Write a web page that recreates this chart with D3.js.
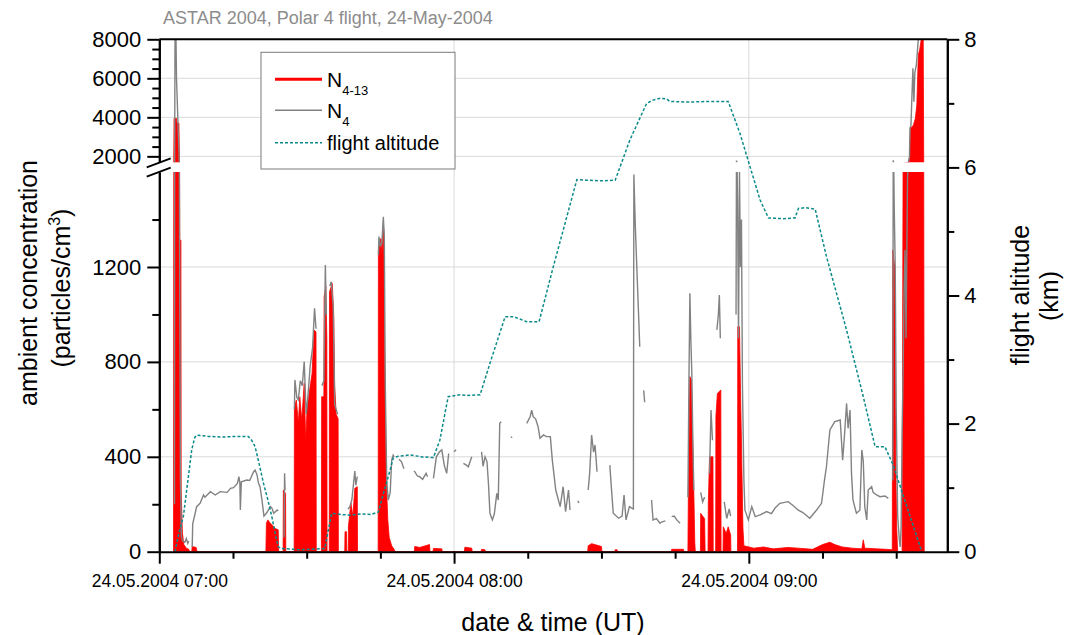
<!DOCTYPE html>
<html>
<head>
<meta charset="utf-8">
<script src="https://cdn.jsdelivr.net/npm/d3@7"></script>
<style>
  body { margin: 0; background: #fff; }
  text { font-family: Arial, "Liberation Sans", sans-serif; }
</style>
</head>
<body>
<script>
// all times are minutes after 07:00 UT on 24.05.2004
var n413 = [
  [2.9, 0], [3.0, 3950], [3.5, 3950], [3.6, 3700], [4.0, 3700], [4.05, 2600], [4.15, 1313], [4.4, 1313],
  [4.45, 260], [4.7, 80], [5.0, 30], [5.5, 15], [6.0, 10], [6.2, 0],
  [6.6, 0], [6.7, 22], [7.5, 18], [7.7, 0],
  [21.7, 0], [21.8, 120], [22.1, 134], [22.5, 122], [23.2, 108], [23.6, 98], [24.2, 92], [24.3, 0],
  [25.2, 0], [25.25, 260], [25.7, 245], [25.75, 0],
  [27.45, 0], [27.5, 611], [27.9, 639], [28.3, 541], [28.6, 653], [29.0, 555], [29.5, 710], [29.8, 471],
  [30.1, 611], [30.4, 653], [30.8, 710], [31.1, 752], [31.5, 934], [31.9, 927], [31.95, 0],
  [33.0, 0], [33.05, 653], [33.5, 653], [33.55, 1075], [33.9, 1117], [34.1, 900], [34.15, 0],
  [34.6, 0], [34.65, 1096], [35.2, 1131], [35.5, 1000], [35.7, 700], [36.0, 580], [36.4, 560], [36.45, 0],
  [37.75, 0], [37.8, 84], [38.1, 84], [38.15, 0],
  [38.45, 0], [38.5, 107], [39.0, 205], [39.4, 150], [39.8, 267], [40.3, 274], [40.35, 0],
  [44.55, 0], [44.6, 1272], [44.9, 1300], [45.1, 1320], [45.3, 1250], [45.5, 1363], [45.7, 1360], [45.85, 864],
  [46.1, 471], [46.3, 250], [46.5, 137], [46.8, 60], [47.3, 25], [47.8, 10], [48.0, 0],
  [51.9, 0], [52.0, 22], [53.0, 18], [54.0, 24], [55.0, 30], [55.1, 0],
  [55.7, 0], [55.8, 14], [57.5, 12], [57.6, 0],
  [62.1, 0], [62.2, 19], [63.6, 15], [63.7, 0],
  [65.5, 0], [65.6, 10], [66.3, 8], [66.4, 0],
  [87.2, 0], [87.3, 25], [88.0, 34], [89.0, 28], [90.0, 22], [90.1, 0],
  [92.7, 0], [92.8, 8], [93.2, 8], [93.3, 0],
  [104.2, 0], [104.3, 10], [106.7, 10], [106.8, 0],
  [107.6, 0], [107.7, 260], [108.0, 738], [108.3, 724], [108.5, 540], [108.7, 358], [109.0, 40], [109.1, 0],
  [110.15, 0], [110.2, 162], [110.6, 150], [111.0, 140], [111.1, 0],
  [111.7, 0], [111.75, 200], [112.0, 400], [112.7, 400], [112.75, 0],
  [113.25, 0], [113.3, 570], [113.6, 667], [114.3, 682], [114.35, 0],
  [114.75, 0], [114.8, 105], [115.4, 77], [115.8, 105], [116.3, 70], [116.35, 0],
  [117.7, 0], [117.75, 948], [118.1, 948], [118.3, 684], [118.5, 461], [118.8, 100], [119.0, 25],
  [121, 15], [123, 20], [125, 12], [128, 18], [130, 15], [133, 10], [135, 30], [136.5, 40], [137.5, 30],
  [139, 20], [141, 15], [143, 12], [143.3, 50], [143.6, 15], [146, 12], [148, 10], [149.2, 8],
  [149.3, 1272], [149.7, 1200], [149.9, 400], [150.1, 100], [150.3, 0],
  [151.2, 0], [151.4, 1650], [152.6, 1690], [152.7, 1810], [152.9, 3436], [153.5, 3600], [153.9, 3950],
  [154.2, 4630], [154.5, 7195], [154.8, 7500], [155.1, 8000], [155.5, 8000], [155.6, 1700], [155.7, 0]
];

// null marks a gap in the N4 record
var n4 = [
  [3.1, 200], [3.2, 8000], [3.4, 8000], [3.5, 6000], [3.7, 4500], [3.9, 3000], [4.1, 1500], [4.3, 300],
  [4.5, 60], [4.8, 45], [5.2, 40], [5.5, 55], [5.8, 35], [6.0, 45], [6.1, null],
  [6.7, 20], [6.8, 117], [7.3, 162], [7.6, 190], [8.3, 204], [9.0, 239], [9.3, 230], [10.4, 253], [11.4, 239],
  [12.4, 253], [13.8, 250], [14.5, 267], [15.1, 270], [15.9, 288], [16.2, 316], [16.4, 290], [16.5, 176],
  [16.7, 295], [17.8, 302], [18.4, 300], [19.2, 337], [19.5, 344], [19.9, 323], [20.2, 288], [20.5, 274],
  [20.9, 218], [21.3, 150], [21.9, 165], [22.6, 190], [22.9, 185], [23.3, 162], [24.0, 176], [24.2, 172], [24.3, null],
  [25.4, 60], [25.5, 331], [25.6, 260], [25.65, null],
  [27.5, 600], [27.6, 724], [28.0, 650], [28.3, 640], [28.7, 720], [29.1, 700], [29.5, 801], [29.9, 580],
  [30.2, 640], [30.7, 780], [31.2, 860], [31.6, 1026], [31.9, 940], [31.95, null],
  [33.1, 700], [33.5, 720], [33.8, 1208], [34.0, 1000], [34.1, null],
  [34.7, 1120], [35.0, 1138], [35.4, 1033], [35.7, 620], [36.0, 600], [36.3, 580], [36.4, null],
  [38.4, 180], [38.8, 190], [39.2, 220], [39.6, 300], [39.8, 340], [40.0, 280], [40.3, 317], [40.4, null],
  [44.6, 1250], [44.7, 1328], [45.0, 1290], [45.3, 1300], [45.6, 1412], [45.8, 1330], [46.0, 700], [46.3, 300],
  [46.6, 218], [47.0, 250], [47.3, 386], [47.6, 407], [47.8, 400], [47.9, null],
  [48.8, 390], [49.3, 379], [49.8, 350], [49.9, null],
  [51.8, 340], [52.0, 337], [52.5, 320], [53.0, 316], [53.6, 305], [54.3, 330], [54.6, 316], [54.7, null],
  [55.8, 309], [56.4, 400], [57.0, 420], [57.5, 429], [58.0, 365], [58.5, 330], [58.9, 414], [59.0, null],
  [60.0, 421], [60.4, 430], [60.5, null],
  [61.9, 372], [62.5, 365], [62.9, 358], [63.6, 400], [63.7, null],
  [65.6, 421], [65.9, 360], [66.3, 400], [66.7, 380], [67.0, 288], [67.3, 162], [67.8, 134], [68.2, 160],
  [68.7, 246], [69.0, 218], [69.3, 541], [69.6, 548], [69.7, null],
  [71.6, 485], [71.8, 480], [71.9, null],
  [74.8, 541], [75.5, 570], [75.8, 597], [76.1, 569], [76.6, 560], [77.1, 527], [77.5, 478], [78.2, 492],
  [78.8, 485], [79.6, 485], [80.0, 386], [80.7, 260], [81.6, 190], [82.2, 274], [82.7, 169], [83.3, 260],
  [83.6, 176], [83.7, null],
  [85.2, 215], [85.4, 205], [85.5, null],
  [87.3, 260], [87.6, 330], [88.0, 492], [88.4, 420], [88.7, 450], [89.1, 337], [89.2, null],
  [91.7, 365], [92.4, 162], [93.5, 141], [94.2, 150], [94.6, 239], [95.0, 134], [95.7, 190], [96.5, 180],
  [96.6, 1590], [96.9, 1370], [97.2, 1200], [97.5, 1030], [97.8, 864], [97.9, null],
  [98.6, 680], [98.8, 630], [98.9, null],
  [100.2, 218], [100.5, 134], [101.2, 140], [101.9, 120], [102.2, 125], [103.0, 130], [103.1, null],
  [104.3, 148], [104.8, 150], [105.3, 135], [106.0, 120], [106.1, null],
  [107.6, 230], [107.8, 700], [108.0, 1089], [108.2, 892], [108.4, 751], [108.6, 471], [108.8, 260], [108.9, null],
  [110.2, 250], [110.6, 210], [111.0, 230], [111.1, null],
  [112.0, 330], [112.3, 597], [112.6, 470], [112.7, null],
  [113.5, 935], [113.8, 1000], [114.0, 1082], [114.2, 900], [114.3, null],
  [115.0, 210], [115.5, 140], [116.0, 180], [116.3, 150], [116.4, null],
  [117.4, 1000], [117.5, 1780], [117.7, 1500], [117.9, 900], [118.1, 1600], [118.3, 1200], [118.5, 1400],
  [118.7, 700], [119.0, 300], [119.2, 176], [119.9, 134], [120.6, 190], [121.3, 148], [122.3, 155],
  [123.6, 169], [124.6, 160], [125.3, 183], [126.3, 204], [128.0, 211], [129.0, 195], [130.0, 176],
  [131.0, 165], [132.4, 141], [133.8, 176], [134.8, 204], [135.4, 302], [135.8, 358], [136.5, 513],
  [137.5, 548], [138.6, 555], [139.1, 386], [139.5, 499], [139.9, 625], [140.2, 520], [140.6, 597],
  [140.9, 330], [141.2, 218], [141.9, 162], [142.6, 175], [143.0, 429], [143.3, 380], [143.6, 190],
  [144.0, 134], [144.3, 260], [145.0, 274], [145.3, 250], [146.0, 239], [146.7, 232], [147.7, 235],
  [148.4, 225], [148.5, null],
  [149.3, 300], [149.4, 1800], [149.6, 1450], [149.8, 1200], [150.0, 600], [150.3, 150], [150.6, 60],
  [150.8, 20], [151.0, 100], [151.2, 500], [151.4, 752], [151.6, 1100], [151.8, 1272], [152.0, 900],
  [152.3, 1560], [152.5, 1750], [152.7, 1980], [152.8, 3436], [153.0, 3600], [153.4, 6513], [153.6, 4800],
  [153.8, 6300], [154.1, 6680], [154.3, 7364], [154.5, 8000], [154.7, 8000]
];

// flight altitude in km
var altitude = [
  [3.2, 0], [4.0, 0.3], [4.9, 0.55], [5.8, 1.1], [6.6, 1.59], [7.2, 1.78], [7.6, 1.82], [10, 1.80],
  [13, 1.79], [15.5, 1.80], [18.1, 1.80], [18.8, 1.74], [19.5, 1.64], [20.3, 1.38], [21.2, 1.07],
  [22.0, 0.84], [22.9, 0.55], [23.6, 0.28], [24.2, 0.08], [24.8, 0.05], [27, 0.04], [29, 0.03],
  [31, 0.04], [33.7, 0.05], [34.3, 0.3], [35.1, 0.60], [37, 0.58], [39, 0.57], [41, 0.59], [43, 0.58],
  [44.6, 0.62], [45.4, 0.85], [46.2, 1.06], [47.0, 1.28], [47.6, 1.46], [48.6, 1.49], [51.0, 1.51],
  [53.5, 1.48], [55.8, 1.47], [57.1, 1.74], [58.8, 2.42], [61.2, 2.45], [63, 2.44], [65.3, 2.45],
  [67.3, 2.94], [70.4, 3.67], [72.1, 3.67], [74.8, 3.59], [77.3, 3.59], [80.2, 4.45], [85.0, 5.81],
  [87.0, 5.80], [90, 5.79], [92.8, 5.80], [93.8, 6.01], [95.8, 6.43], [99.2, 7.0], [100.5, 7.05],
  [102, 7.08], [103.3, 7.07], [103.9, 7.03], [108, 7.02], [112, 7.03], [115.8, 7.03], [118.2, 6.53],
  [122.3, 5.49], [124.0, 5.21], [127, 5.20], [129.4, 5.21], [130.1, 5.36], [131.5, 5.37], [133.5, 5.35],
  [135.8, 4.61], [139.9, 3.46], [143.3, 2.42], [145.7, 1.64], [147.7, 1.64], [149.4, 1.35], [155.2, 0]
];

var lowTicks = [0, 400, 800, 1200];
var lowMinor = [200, 600, 1000, 1400];
var highTicks = [2000, 4000, 6000, 8000];
var highMinor = [2500, 3000, 3500, 4500, 5000, 5500, 6500, 7000, 7500];
var altTicks = [0, 2, 4, 6, 8];
var altMinor = [1, 3, 5, 7];
var hourTicks = [0, 60, 120];
var quarterTicks = [15, 30, 45, 75, 90, 105, 135, 150];

var plotLeft = 159.3, plotRight = 947.3, plotTop = 39.3, plotBottom = 551.7;
var breakTop = 162.2, breakBottom = 172.1;

var t0 = Date.UTC(2004, 4, 24, 7, 0);
function toDate(m) { return new Date(t0 + m * 60000); }

var x = d3.scaleUtc().domain([toDate(0), toDate(160.4)]).range([plotLeft, plotRight]);
var yLow = d3.scaleLinear().domain([0, 1600]).range([plotBottom, breakBottom]);
var yHigh = d3.scaleLinear().domain([1700, 8000]).range([breakTop, plotTop]);
var yAlt = d3.scaleLinear().domain([0, 8]).range([plotBottom, plotTop]);

var svg = d3.select('body').append('svg')
  .attr('width', 1065)
  .attr('height', 635);

var defs = svg.append('defs');
defs.append('clipPath').attr('id', 'clipLow').append('rect')
  .attr('x', plotLeft).attr('y', breakBottom)
  .attr('width', plotRight - plotLeft).attr('height', plotBottom - breakBottom);
defs.append('clipPath').attr('id', 'clipHigh').append('rect')
  .attr('x', plotLeft).attr('y', plotTop)
  .attr('width', plotRight - plotLeft).attr('height', breakTop - plotTop);

// grid
var grid = svg.append('g').attr('stroke', '#dadada').attr('stroke-width', 1);
grid.selectAll('.gl').data(lowTicks.slice(1)).enter().append('line')
  .attr('x1', plotLeft).attr('x2', plotRight)
  .attr('y1', function (d) { return yLow(d); }).attr('y2', function (d) { return yLow(d); });
grid.selectAll('.gh').data(highTicks.slice(0, 3)).enter().append('line')
  .attr('x1', plotLeft).attr('x2', plotRight)
  .attr('y1', function (d) { return yHigh(d); }).attr('y2', function (d) { return yHigh(d); });
grid.selectAll('.gv').data(hourTicks.slice(1)).enter().append('line')
  .attr('x1', function (d) { return x(toDate(d)); }).attr('x2', function (d) { return x(toDate(d)); })
  .attr('y1', plotTop).attr('y2', plotBottom);

// data, drawn once per panel of the broken axis
[[yLow, 'clipLow'], [yHigh, 'clipHigh']].forEach(function (p) {
  var y = p[0];
  var g = svg.append('g').attr('clip-path', 'url(#' + p[1] + ')');

  var area = d3.area()
    .x(function (d) { return x(toDate(d[0])); })
    .y0(y(0))
    .y1(function (d) { return y(d[1]); });

  g.append('path')
    .datum(n413)
    .attr('d', area)
    .attr('fill', '#ff0000')
    .attr('stroke', '#ff0000')
    .attr('stroke-width', 0.8);

  var line = d3.line()
    .defined(function (d) { return d[1] != null; })
    .x(function (d) { return x(toDate(d[0])); })
    .y(function (d) { return y(d[1]); });

  g.append('path')
    .datum(n4)
    .attr('d', line)
    .attr('fill', 'none')
    .attr('stroke', '#828282')
    .attr('stroke-width', 1.4);
});

var altLine = d3.line()
  .x(function (d) { return x(toDate(d[0])); })
  .y(function (d) { return yAlt(d[1]); });

svg.append('path')
  .datum(altitude)
  .attr('d', altLine)
  .attr('fill', 'none')
  .attr('stroke', '#0b8a8a')
  .attr('stroke-width', 1.5)
  .attr('stroke-dasharray', '3,2');

// axes
function styleAxis(g, size) {
  g.select('.domain').attr('stroke', '#000').attr('stroke-width', 2);
  g.selectAll('.tick line').attr('stroke', '#000').attr('stroke-width', 2);
  g.selectAll('.tick text').attr('fill', '#000').style('font-size', size + 'px')
    .style('font-family', 'Arial, "Liberation Sans", sans-serif');
}

var fmt = d3.format('d');

var gLow = svg.append('g').attr('transform', 'translate(' + plotLeft + ',0)')
  .call(d3.axisLeft(yLow).tickValues(lowTicks).tickFormat(fmt).tickSize(12).tickSizeOuter(0).tickPadding(6));
styleAxis(gLow, 22);
var gLowMinor = svg.append('g').attr('transform', 'translate(' + plotLeft + ',0)')
  .call(d3.axisLeft(yLow).tickValues(lowMinor).tickSize(7).tickSizeOuter(0).tickFormat(''));
styleAxis(gLowMinor, 22);

var gHigh = svg.append('g').attr('transform', 'translate(' + plotLeft + ',0)')
  .call(d3.axisLeft(yHigh).tickValues(highTicks).tickFormat(fmt).tickSize(12).tickSizeOuter(0).tickPadding(6));
styleAxis(gHigh, 22);
var gHighMinor = svg.append('g').attr('transform', 'translate(' + plotLeft + ',0)')
  .call(d3.axisLeft(yHigh).tickValues(highMinor).tickSize(7).tickSizeOuter(0).tickFormat(''));
styleAxis(gHighMinor, 22);

var gAlt = svg.append('g').attr('transform', 'translate(' + plotRight + ',0)')
  .call(d3.axisRight(yAlt).tickValues(altTicks).tickFormat(fmt).tickSize(12).tickSizeOuter(0).tickPadding(5));
styleAxis(gAlt, 22);
var gAltMinor = svg.append('g').attr('transform', 'translate(' + plotRight + ',0)')
  .call(d3.axisRight(yAlt).tickValues(altMinor).tickSize(7).tickSizeOuter(0).tickFormat(''));
styleAxis(gAltMinor, 22);

var gTime = svg.append('g').attr('transform', 'translate(0,' + plotBottom + ')')
  .call(d3.axisBottom(x).tickValues(hourTicks.map(toDate)).tickSize(12).tickSizeOuter(0).tickPadding(11)
    .tickFormat(d3.utcFormat('%d.%m.%Y %H:%M')));
styleAxis(gTime, 17.5);
var gTimeMinor = svg.append('g').attr('transform', 'translate(0,' + plotBottom + ')')
  .call(d3.axisBottom(x).tickValues(quarterTicks.map(toDate)).tickSize(7).tickSizeOuter(0).tickFormat(''));
styleAxis(gTimeMinor, 17.5);
gTimeMinor.select('.domain').remove();

// top frame line
svg.append('line')
  .attr('x1', plotLeft).attr('x2', plotRight).attr('y1', plotTop).attr('y2', plotTop)
  .attr('stroke', '#000').attr('stroke-width', 2);

// axis break marks
[[167.3, 158.3], [176.7, 167.7]].forEach(function (b) {
  svg.append('line')
    .attr('x1', 146.7).attr('y1', b[0]).attr('x2', 170.7).attr('y2', b[1])
    .attr('stroke', '#000').attr('stroke-width', 1.8);
});

// titles
svg.append('text')
  .attr('x', 163).attr('y', 24)
  .attr('fill', '#8c8c8c')
  .style('font-size', '18px')
  .text('ASTAR 2004, Polar 4 flight, 24-May-2004');

svg.append('text')
  .attr('x', 553).attr('y', 631)
  .attr('text-anchor', 'middle')
  .style('font-size', '25px')
  .text('date & time (UT)');

svg.append('text')
  .attr('transform', 'translate(37,283) rotate(-90)')
  .attr('text-anchor', 'middle')
  .style('font-size', '25px')
  .text('ambient concentration');

var yl2 = svg.append('text')
  .attr('transform', 'translate(70,288) rotate(-90)')
  .attr('text-anchor', 'middle')
  .style('font-size', '25px');
yl2.append('tspan').text('(particles/cm');
yl2.append('tspan').attr('dy', -10).style('font-size', '16px').text('3');
yl2.append('tspan').attr('dy', 10).text(')');

svg.append('text')
  .attr('transform', 'translate(1029,295) rotate(-90)')
  .attr('text-anchor', 'middle')
  .style('font-size', '25px')
  .text('flight altitude');

svg.append('text')
  .attr('transform', 'translate(1058,296) rotate(-90)')
  .attr('text-anchor', 'middle')
  .style('font-size', '25px')
  .text('(km)');

// legend
var leg = svg.append('g');
leg.append('rect')
  .attr('x', 261).attr('y', 52.3).attr('width', 194).attr('height', 116.7)
  .attr('fill', '#fff').attr('stroke', '#7a7a7a').attr('stroke-width', 1);

leg.append('line').attr('x1', 275).attr('x2', 322).attr('y1', 79.3).attr('y2', 79.3)
  .attr('stroke', '#ff0000').attr('stroke-width', 3);
leg.append('line').attr('x1', 275).attr('x2', 322).attr('y1', 110.3).attr('y2', 110.3)
  .attr('stroke', '#828282').attr('stroke-width', 1.4);
leg.append('line').attr('x1', 275).attr('x2', 322).attr('y1', 142.7).attr('y2', 142.7)
  .attr('stroke', '#0b8a8a').attr('stroke-width', 1.5).attr('stroke-dasharray', '3,2');

var l1 = leg.append('text').attr('x', 327).attr('y', 87).style('font-size', '21px');
l1.append('tspan').text('N');
l1.append('tspan').attr('dy', 8).style('font-size', '13px').text('4-13');
var l2 = leg.append('text').attr('x', 327).attr('y', 118).style('font-size', '21px');
l2.append('tspan').text('N');
l2.append('tspan').attr('dy', 8).style('font-size', '13px').text('4');
leg.append('text').attr('x', 327).attr('y', 150).style('font-size', '20px').text('flight altitude');
</script>
</body>
</html>
